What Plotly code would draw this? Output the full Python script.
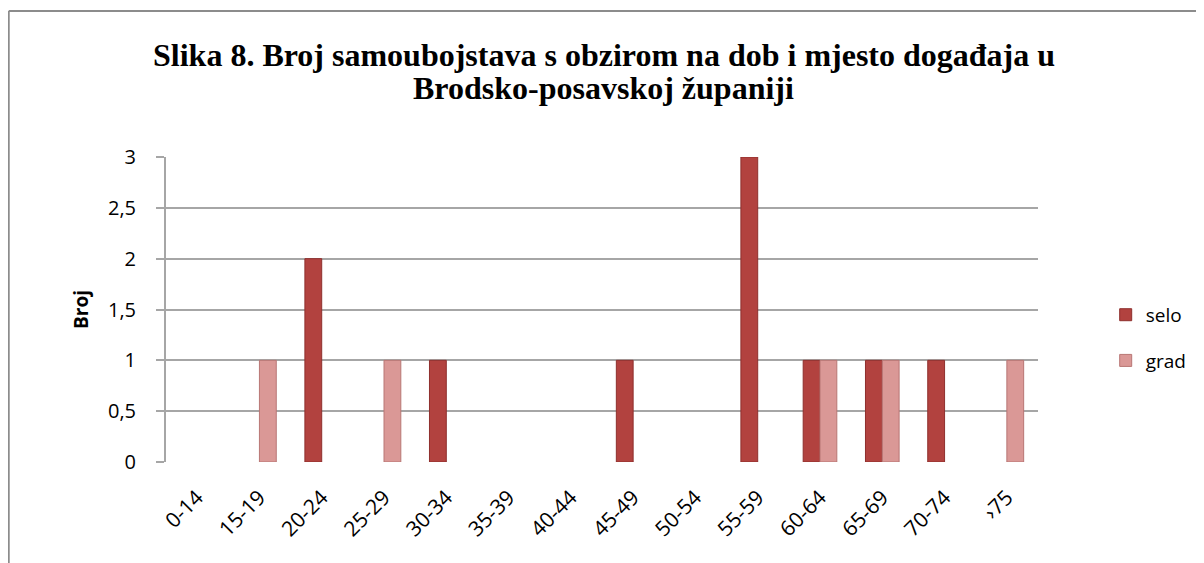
import plotly.graph_objects as go

categories = ["0-14", "15-19", "20-24", "25-29", "30-34", "35-39", "40-44",
              "45-49", "50-54", "55-59", "60-64", "65-69", "70-74", "›75"]
selo = [0, 0, 2, 0, 1, 0, 0, 1, 0, 3, 1, 1, 1, 0]
grad = [0, 1, 0, 1, 0, 0, 0, 0, 0, 0, 1, 1, 0, 1]
y_ticks = [0, 0.5, 1, 1.5, 2, 2.5, 3]
y_labels = ["0", "0,5", "1", "1,5", "2", "2,5", "3"]
title_lines = ["Slika 8. Broj samoubojstava s obzirom na dob i mjesto događaja u",
               "Brodsko-posavskoj županiji"]


def hide_zero(vals):
    return [v if v != 0 else None for v in vals]


W, H = 1196, 555  # page body has an 8px margin
L, R, T, B = 158, 162, 149, 101
PW, PH = W - L - R, H - T - B

fig = go.Figure()
fig.add_trace(go.Bar(x=categories, y=hide_zero(selo), name="selo", legendgroup="a",
                     marker=dict(color="#B2423F", line=dict(color="#8E2F2D", width=1))))
fig.add_trace(go.Bar(x=categories, y=hide_zero(grad), name="grad", legendgroup="b",
                     marker=dict(color="#DA9896", line=dict(color="#B87674", width=1))))

annotations = []
for i, line in enumerate(title_lines):
    annotations.append(dict(text=line, xref="paper", yref="paper",
                            x=((W / 2) - L) / PW,
                            y=1 + (T - (47 + 33 * i)) / PH, xanchor="center", yanchor="middle",
                            showarrow=False,
                            font=dict(family="Liberation Serif", size=32, color="black", weight="bold")))

fig.update_layout(
    width=W, height=H,
    paper_bgcolor="white", plot_bgcolor="white",
    barmode="group", bargap=0.46, bargroupgap=0,
    margin=dict(l=L, r=R, t=T, b=B),
    annotations=annotations,
    font=dict(family="Open Sans", color="black"),
    legend=dict(x=(1102 - L) / PW, y=0.407, xanchor="left", yanchor="middle",
                font=dict(family="Open Sans", size=19, color="black"),
                tracegroupgap=18, bgcolor="rgba(0,0,0,0)"),
    xaxis=dict(tickangle=-45, tickfont=dict(size=21, family="Open Sans"),
               showline=False, ticks="outside", ticklen=14, tickcolor="rgba(0,0,0,0)",
               showgrid=False),
    yaxis=dict(range=[0, 3], tickvals=y_ticks, ticktext=y_labels,
               tickfont=dict(size=20, family="Open Sans"),
               showgrid=True, gridcolor="#A6A6A6", gridwidth=2,
               showline=True, linecolor="#A6A6A6", linewidth=2,
               ticks="outside", tickcolor="#A6A6A6", ticklen=8, tickwidth=2,
               ticklabelstandoff=16,
               zeroline=False,
               title=dict(text="<b>Broj</b>", font=dict(size=19, family="Open Sans"), standoff=14)),
    shapes=[dict(type="line", xref="paper", yref="paper",
                 x0=-L / PW, x1=1.3, y0=1 + (T - 3) / PH, y1=1 + (T - 3) / PH,
                 line=dict(color="#8C8C8C", width=2)),
            dict(type="line", xref="paper", yref="paper",
                 x0=-L / PW, x1=-L / PW, y0=1 + (T - 3) / PH, y1=-0.5,
                 line=dict(color="#8C8C8C", width=2))],
)

fig.write_html("out.html")
